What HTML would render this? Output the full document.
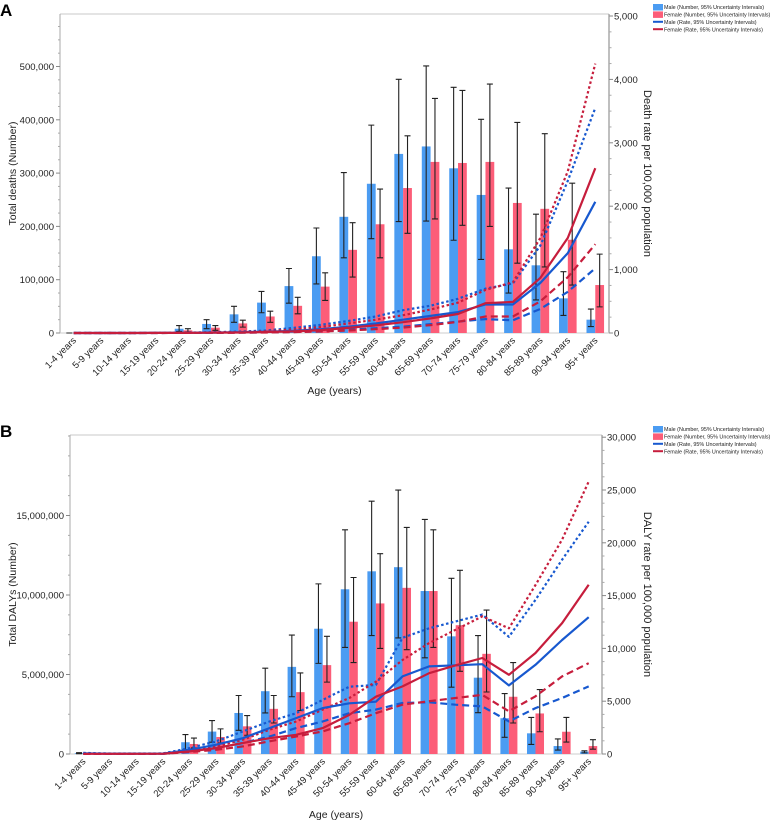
<!DOCTYPE html>
<html><head><meta charset="utf-8">
<style>
html,body{margin:0;padding:0;background:#fff;}
svg{display:block;font-family:"Liberation Sans",sans-serif;}
</style></head>
<body>
<svg id="chart" width="778" height="820" viewBox="0 0 778 820" xmlns="http://www.w3.org/2000/svg"></svg>
<script>
const categories = ["1-4 years","5-9 years","10-14 years","15-19 years","20-24 years","25-29 years","30-34 years","35-39 years","40-44 years","45-49 years","50-54 years","55-59 years","60-64 years","65-69 years","70-74 years","75-79 years","80-84 years","85-89 years","90-94 years","95+ years"];

// Panel A: deaths (thousands)
const deathsMale = [0,0,0,0,8,17,35,57,88,144,218,280,336,350,309,259,157,127,65,25];
const deathsMaleLo = [0,0,0,0,3,8,20,38,56,92,141,177,209,210,174,138,75,62,33,12];
const deathsMaleHi = [0,0,0,0,14,25,50,78,121,197,301,390,476,501,461,401,272,223,115,45];
const deathsFemale = [0,0,0,0,5,10,18,31,51,87,156,204,272,321,319,321,244,233,175,90];
const deathsFemaleLo = [0,0,0,0,2,5,11,20,36,61,105,141,187,214,202,200,131,124,90,49];
const deathsFemaleHi = [0,0,0,0,8,14,24,41,67,113,207,270,370,440,455,467,395,374,281,148];
const deathRateMale = [0,0,0,1,3,6,12,20,35,60,100,150,210,270,330,450,450,790,1260,2070];
const deathRateMaleLo = [0,0,0,0,1,3,6,10,16,28,50,75,100,140,180,220,200,380,650,1020];
const deathRateMaleHi = [0,0,0,2,6,12,22,40,80,130,190,260,360,430,540,700,780,1380,2400,3550];
const deathRateFemale = [0,0,0,1,2,4,8,15,25,45,80,120,170,230,300,470,490,870,1500,2600];
const deathRateFemaleLo = [0,0,0,0,1,2,4,8,14,24,40,60,85,125,175,260,260,500,880,1400];
const deathRateFemaleHi = [0,0,0,1,4,8,15,28,55,95,150,210,280,370,480,680,800,1500,2550,4250];
const deathLeftTicks = [0,100000,200000,300000,400000,500000];
const deathRightTicks = [0,1000,2000,3000,4000,5000];

// Panel B: DALYs (millions)
const dalyMale = [0.05,0.02,0.02,0.02,0.74,1.41,2.58,3.95,5.48,7.88,10.36,11.49,11.75,10.25,7.4,4.8,2.25,1.3,0.5,0.15];
const dalyMaleLo = [0.02,0.01,0.01,0.01,0.27,0.74,1.49,2.58,3.6,5.7,6.7,7.45,7.3,6.05,4.2,2.6,1.05,0.6,0.25,0.07];
const dalyMaleHi = [0.08,0.04,0.04,0.04,1.22,2.1,3.68,5.4,7.48,10.7,14.1,15.9,16.6,14.75,11.05,7.45,3.8,2.3,0.95,0.2];
const dalyFemale = [0.01,0.01,0.01,0.01,0.63,1.07,1.74,2.84,3.89,5.59,8.32,9.47,10.45,10.25,8.1,6.3,3.6,2.55,1.4,0.5];
const dalyFemaleLo = [0,0,0,0,0.38,0.7,1.18,1.95,2.73,4.52,5.75,6.64,6.56,6.7,5.2,3.9,1.95,1.4,0.75,0.3];
const dalyFemaleHi = [0.02,0.02,0.02,0.02,1.0,1.58,2.42,3.68,5.1,7.4,11.1,12.6,14.25,14.1,11.55,9.05,5.75,4.05,2.3,0.9];
const dalyRateMale = [60,30,30,40,400,880,1500,2450,3400,4350,4800,4950,7350,8300,8400,8500,6500,8450,10800,12950];
const dalyRateMaleLo = [30,15,15,20,250,560,1040,1660,2450,3080,3860,4200,4830,4900,4670,4510,3090,4350,5300,6400];
const dalyRateMaleHi = [100,50,50,60,560,1200,2140,3080,3860,5120,6370,6530,11000,11900,12550,13200,11100,14600,18400,22000];
const dalyRateFemale = [20,20,20,30,250,560,1040,1500,1820,2450,3700,5430,6400,7650,8400,9090,7500,9560,12400,16030];
const dalyRateFemaleLo = [10,10,10,15,190,400,720,1200,1660,2140,2920,3860,4670,5000,5300,5600,4040,5460,7350,8600];
const dalyRateFemaleHi = [30,30,30,40,300,720,1350,2300,3080,4200,5300,6850,8900,10500,11770,13030,11900,16000,20300,25800];
const dalyLeftTicks = [0,5000000,10000000,15000000];
const dalyRightTicks = [0,5000,10000,15000,20000,25000,30000];

const NS = "http://www.w3.org/2000/svg";
const svg = document.getElementById("chart");
function mk(tag, attrs, parent){
  const e = document.createElementNS(NS, tag);
  for (const k in attrs) e.setAttribute(k, attrs[k]);
  (parent||svg).appendChild(e);
  return e;
}
const BLUE_BAR="#4b9cf2", RED_BAR="#fc5d78", BLUE_LINE="#1758cf", RED_LINE="#c61d3c";

function drawPanel(p){
  const g = mk("g",{});
  
  
  const n = categories.length, w = (p.x1 - p.x0)/n;
  const cx = i => p.x0 + (i+0.5)*w;
  const yL = v => p.y0 - (v/p.leftScale)*p.leftPx;
  const yR = v => p.y0 - (v/p.rightScale)*p.rightPx;

  const L = mk("text",{x:0,y:p.top+2,"font-size":17,"font-weight":"bold",fill:"#000"},g);
  L.textContent = p.letter;
  
  

  mk("line",{x1:p.x0,y1:p.top,x2:p.x1,y2:p.top,stroke:"#c8c8c8","stroke-width":1},g);
  const la = mk("line",{x1:p.x0,y1:p.top,x2:p.x0,y2:p.y0,stroke:"#aaa","stroke-width":1},g);
  
  
  const ra = mk("line",{x1:p.x1,y1:p.top,x2:p.x1,y2:p.y0,stroke:"#aaa","stroke-width":1.5},g);
  
  
  mk("line",{x1:p.x0,y1:p.y0,x2:p.x1,y2:p.y0,stroke:"#ccc","stroke-width":1},g);

  p.leftTicks.forEach((t,k)=>{
    const y = yL(t);
    mk("line",{x1:p.x0-4,y1:y,x2:p.x0,y2:y,stroke:"#888"},g);
    const tx = mk("text",{x:p.x0-6,y:y+3.5,"font-size":9.5,"text-anchor":"end",fill:"#222"},g);
    tx.textContent = t.toLocaleString("en-US");
    
    
    const step = p.leftTicks[1]-p.leftTicks[0];
    for (let m=1;m<4;m++){ const ym=yL(t+step*m/4); if(ym>p.top) mk("line",{x1:p.x0-2,y1:ym,x2:p.x0,y2:ym,stroke:"#aaa"},g);}
    if (k===p.leftTicks.length-1){ for (let m=4;m<10;m++){const ym=yL(t+step*m/4); if(ym>p.top) mk("line",{x1:p.x0-2,y1:ym,x2:p.x0,y2:ym,stroke:"#aaa"},g);} }
  });
  p.rightTicks.forEach(t=>{
    const y = yR(t);
    mk("line",{x1:p.x1,y1:y,x2:p.x1+4,y2:y,stroke:"#888"},g);
    const tx = mk("text",{x:p.x1+5,y:y+3.5,"font-size":9.5,fill:"#222"},g);
    tx.textContent = t.toLocaleString("en-US");
    
    
    const step = p.rightTicks[1]-p.rightTicks[0];
    for (let m=1;m<4;m++){ const ym=yR(t+step*m/4); if(ym>p.top) mk("line",{x1:p.x1,y1:ym,x2:p.x1+2.5,y2:ym,stroke:"#aaa"},g);}
  });

  const bw = 0.32*w;
  categories.forEach((c,i)=>{
    const c0 = cx(i);
    const vm = p.male[i], vf = p.female[i];
    const bm = mk("rect",{x:c0-bw,y:yL(vm),width:bw,height:Math.max(0,p.y0-yL(vm)),fill:BLUE_BAR},g);
    
    
    const bf = mk("rect",{x:c0,y:yL(vf),width:bw,height:Math.max(0,p.y0-yL(vf)),fill:RED_BAR},g);
    
    
  });
  categories.forEach((c,i)=>{
    const c0 = cx(i);
    [[c0-bw/2,p.maleLo[i],p.maleHi[i]],[c0+bw/2,p.femaleLo[i],p.femaleHi[i]]].forEach(([x,lo,hi])=>{
      const e = mk("path",{d:`M${x-3},${yL(hi)}H${x+3}M${x},${yL(hi)}V${yL(lo)}M${x-3},${yL(lo)}H${x+3}`,stroke:"#222","stroke-width":1.1,fill:"none"},g);
      
      
    });
  });
  const series = [
    [p.rMaleHi,BLUE_LINE,"2.5,2.5",'male-rate-upper'],[p.rFemaleHi,RED_LINE,"2.5,2.5",'female-rate-upper'],
    [p.rMaleLo,BLUE_LINE,"7,4",'male-rate-lower'],[p.rFemaleLo,RED_LINE,"7,4",'female-rate-lower'],
    [p.rMale,BLUE_LINE,"",'male-rate-line'],[p.rFemale,RED_LINE,"",'female-rate-line']
  ];
  series.forEach(([arr,col,dash,name])=>{
    const d = arr.map((v,i)=>(i?"L":"M")+cx(i).toFixed(1)+","+yR(v).toFixed(1)).join("");
    const a = {d:d,stroke:col,"stroke-width":2.2,fill:"none","stroke-linejoin":"round"};
    if (dash) a["stroke-dasharray"]=dash;
    const pth = mk("path",a,g);
    
    
  });

  categories.forEach((c,i)=>{
    const x = cx(i)+3, y = p.y0+8;
    const t = mk("text",{x:x,y:y,"font-size":9.5,"text-anchor":"end",fill:"#222",transform:`rotate(-45 ${x} ${y})`},g);
    t.textContent = c;
    
    
  });
  const xt = mk("text",{x:(p.x0+p.x1)/2,y:p.xTitleY,"font-size":10.5,"text-anchor":"middle",fill:"#222"},g);
  xt.textContent = "Age (years)";
  
  
  const ly = (p.top+p.y0)/2;
  const lt = mk("text",{x:p.leftTitleX,y:ly,"font-size":10.5,"text-anchor":"middle",fill:"#222",transform:`rotate(-90 ${p.leftTitleX} ${ly})`},g);
  lt.textContent = p.leftTitle;
  
  
  const rx = 644;
  const rt = mk("text",{x:rx,y:ly,"font-size":11,"text-anchor":"middle",fill:"#222",transform:`rotate(90 ${rx} ${ly})`},g);
  rt.textContent = p.rightTitle;
  
  

  const items = [["Male (Number, 95% Uncertainty Intervals)","bar",BLUE_BAR],["Female (Number, 95% Uncertainty Intervals)","bar",RED_BAR],["Male (Rate, 95% Uncertainty Intervals)","line",BLUE_LINE],["Female (Rate, 95% Uncertainty Intervals)","line",RED_LINE]];
  items.forEach(([lab,kind,col],k)=>{
    const y = p.legendY + k*7.4;
    if (kind==="bar") mk("rect",{x:653,y:y-3,width:10,height:6.5,fill:col},g);
    else mk("line",{x1:653,y1:y,x2:663,y2:y,stroke:col,"stroke-width":2},g);
    const t = mk("text",{x:664,y:y+2.2,"font-size":5.4,fill:"#222"},g);
    t.textContent = lab;
    
    
  });
}

drawPanel({id:"deaths",letter:"A",top:14,x0:60,x1:609,y0:333,
  leftScale:100000,leftPx:53.3,rightScale:1000,rightPx:63.4,
  leftTicks:deathLeftTicks,rightTicks:deathRightTicks,
  male:deathsMale.map(v=>v*1000),maleLo:deathsMaleLo.map(v=>v*1000),maleHi:deathsMaleHi.map(v=>v*1000),
  female:deathsFemale.map(v=>v*1000),femaleLo:deathsFemaleLo.map(v=>v*1000),femaleHi:deathsFemaleHi.map(v=>v*1000),
  rMale:deathRateMale,rMaleLo:deathRateMaleLo,rMaleHi:deathRateMaleHi,
  rFemale:deathRateFemale,rFemaleLo:deathRateFemaleLo,rFemaleHi:deathRateFemaleHi,
  xTitleY:394,leftTitleX:16,leftTitle:"Total deaths (Number)",rightTitle:"Death rate per 100,000 population",legendY:7});

drawPanel({id:"dalys",letter:"B",top:435,x0:70,x1:602,y0:754,
  leftScale:5000000,leftPx:79.5,rightScale:5000,rightPx:52.8,
  leftTicks:dalyLeftTicks,rightTicks:dalyRightTicks,
  male:dalyMale.map(v=>v*1e6),maleLo:dalyMaleLo.map(v=>v*1e6),maleHi:dalyMaleHi.map(v=>v*1e6),
  female:dalyFemale.map(v=>v*1e6),femaleLo:dalyFemaleLo.map(v=>v*1e6),femaleHi:dalyFemaleHi.map(v=>v*1e6),
  rMale:dalyRateMale,rMaleLo:dalyRateMaleLo,rMaleHi:dalyRateMaleHi,
  rFemale:dalyRateFemale,rFemaleLo:dalyRateFemaleLo,rFemaleHi:dalyRateFemaleHi,
  xTitleY:818,leftTitleX:16,leftTitle:"Total DALYs (Number)",rightTitle:"DALY rate per 100,000 population",legendY:429});
</script>
</body></html>
